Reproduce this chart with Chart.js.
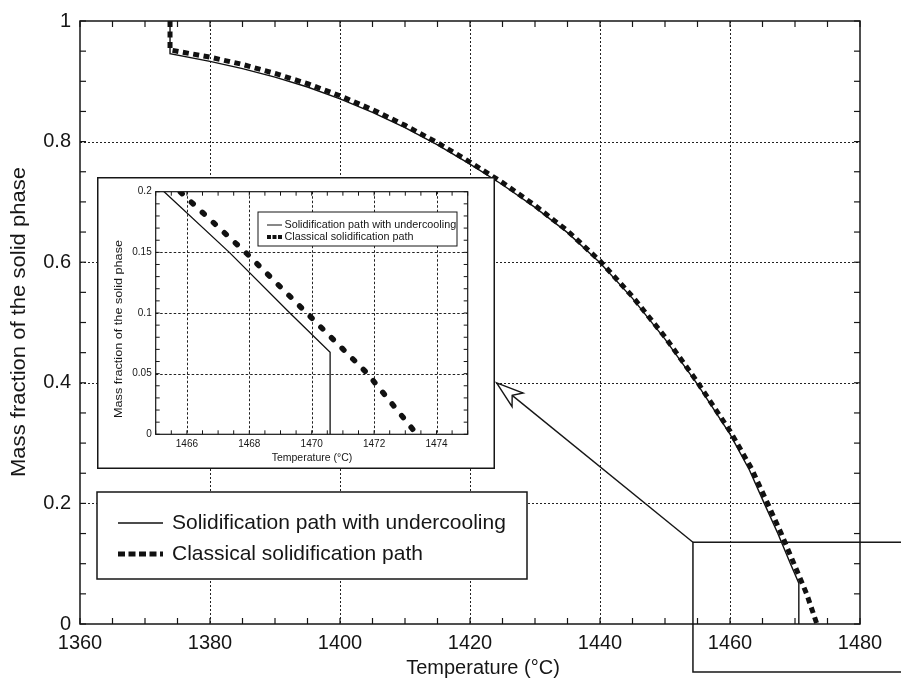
<!DOCTYPE html>
<html><head><meta charset="utf-8">
<script src="https://cdn.jsdelivr.net/npm/chart.js@4.4.1/dist/chart.umd.min.js"></script>
<style>
html,body{margin:0;padding:0;background:#fff;}
#wrap{position:relative;width:901px;height:682px;overflow:hidden;background:#fff;}
#main{position:absolute;left:0;top:0;}
#inset{position:absolute;left:97px;top:177px;}
</style></head><body>
<div id="wrap"><canvas id="main" width="901" height="682"></canvas><canvas id="inset" width="398" height="292"></canvas></div>
<script>
// ---- data ----
const seriesLabels = ['Solidification path with undercooling', 'Classical solidification path'];
const undercoolT = [1373.85, 1373.85, 1380, 1385, 1390, 1395, 1400, 1405, 1410, 1415, 1420, 1425, 1430, 1435, 1440, 1445, 1450, 1455, 1460, 1463, 1465.27, 1467.36, 1469.3, 1470.59, 1470.59];
const undercoolF = [1.0, 0.946, 0.933, 0.921, 0.907, 0.8905, 0.871, 0.8485, 0.823, 0.7945, 0.7625, 0.7285, 0.691, 0.649, 0.599, 0.540, 0.4725, 0.3975, 0.315, 0.255, 0.200, 0.150, 0.100, 0.0676, 0.0];
const classicalT = [1373.85, 1373.85, 1380, 1385, 1390, 1395, 1400, 1405, 1410, 1415, 1420, 1425, 1430, 1435, 1440, 1445, 1450, 1455, 1460, 1463.3, 1465.78, 1467.88, 1469.84, 1471.79, 1473.37];
const classicalF = [1.0, 0.952, 0.940, 0.928, 0.913, 0.896, 0.876, 0.853, 0.827, 0.798, 0.766, 0.732, 0.694, 0.652, 0.602, 0.543, 0.476, 0.401, 0.320, 0.258, 0.200, 0.150, 0.100, 0.050, 0.0];

const mainXTicks = [1360, 1380, 1400, 1420, 1440, 1460, 1480];
const mainYTicks = [0, 0.2, 0.4, 0.6, 0.8, 1];
const insetXTicks = [1466, 1468, 1470, 1472, 1474];
const insetYTicks = [0, 0.05, 0.1, 0.15, 0.2];
const xTitle = 'Temperature (°C)';
const yTitle = 'Mass fraction of the solid phase';

// zoom-window marker and arrow (data units of the main chart)
const zoomBox = {tMin: 1454.3, tMax: 1495, fMin: -0.0796, fMax: 0.1356};
const arrowTip = {t: 1424.1, f: 0.40};

// ---- drawing helpers ----
const FONT = "'Liberation Sans', Arial, Helvetica, sans-serif";
const INK = '#161616';
function pts(T, F){ return T.map((t,i)=>({x:t, y:F[i]})); }
function line(ctx,x1,y1,x2,y2){ ctx.beginPath(); ctx.moveTo(x1,y1); ctx.lineTo(x2,y2); ctx.stroke(); }

function drawGrid(chart, xs, ys, dash, w){
  const {ctx, chartArea:a, scales:{x,y}} = chart;
  ctx.save(); ctx.strokeStyle = '#222'; ctx.lineWidth = w; ctx.setLineDash(dash);
  xs.forEach(v=>{ if (v<=x.min || v>=x.max) return; const p = Math.round(x.getPixelForValue(v))+0.5; line(ctx,p,a.top,p,a.bottom); });
  ys.forEach(v=>{ if (v<=y.min || v>=y.max) return; const p = Math.round(y.getPixelForValue(v))+0.5; line(ctx,a.left,p,a.right,p); });
  ctx.restore();
}
function drawFrameTicks(chart, xStep, yStep, tl, tw, fw){
  const {ctx, chartArea:a, scales:{x,y}} = chart;
  ctx.save(); ctx.strokeStyle = INK; ctx.setLineDash([]); ctx.lineWidth = tw;
  const nx = Math.round((x.max-x.min)/xStep);
  for (let i=0;i<=nx;i++){ const p = x.getPixelForValue(x.min+i*xStep); line(ctx,p,a.bottom,p,a.bottom-tl); line(ctx,p,a.top,p,a.top+tl); }
  const ny = Math.round((y.max-y.min)/yStep);
  for (let i=0;i<=ny;i++){ const p = y.getPixelForValue(y.min+i*yStep); line(ctx,a.left,p,a.left+tl,p); line(ctx,a.right,p,a.right-tl,p); }
  ctx.lineWidth = fw; ctx.strokeRect(a.left, a.top, a.right-a.left, a.bottom-a.top);
  ctx.restore();
}
function drawLegend(chart, box, rows, sx, tx, fs, dashes, widths, bw){
  const ctx = chart.ctx;
  ctx.save();
  ctx.fillStyle = '#fff'; ctx.fillRect(box[0], box[1], box[2]-box[0], box[3]-box[1]);
  ctx.strokeStyle = INK; ctx.lineWidth = bw; ctx.setLineDash([]);
  ctx.strokeRect(box[0], box[1], box[2]-box[0], box[3]-box[1]);
  chart.data.datasets.forEach((ds,i)=>{
    const yy = rows[i];
    ctx.strokeStyle = ds.borderColor; ctx.lineWidth = widths[i]; ctx.setLineDash(dashes[i]); ctx.lineCap = 'butt';
    line(ctx, sx[0], yy, sx[1], yy);
    ctx.setLineDash([]);
    ctx.fillStyle = INK; ctx.font = fs + 'px ' + FONT; ctx.textAlign = 'left'; ctx.textBaseline = 'middle';
    ctx.fillText(ds.label, tx, yy);
  });
  ctx.restore();
}
function drawTitles(chart, xt, xc, yt, yc, fs, yfs, yLen){
  const ctx = chart.ctx;
  ctx.save(); ctx.fillStyle = INK; ctx.textAlign = 'center'; ctx.textBaseline = 'middle';
  ctx.font = fs + 'px ' + FONT; ctx.fillText(xt, xc[0], xc[1]);
  ctx.font = yfs + 'px ' + FONT;
  const w = ctx.measureText(yt).width;
  ctx.translate(yc[0], yc[1]); ctx.rotate(-Math.PI/2); ctx.scale(yLen/w, 1);
  ctx.fillText(yt, 0, 0);
  ctx.restore();
}
function axisCfg(min, max, ticksArr, fs, pad, fit){
  return {
    type:'linear', min:min, max:max,
    afterBuildTicks: s=>{ s.ticks = ticksArr.map(v=>({value:v})); },
    afterFit: fit,
    grid:{display:false, drawTicks:false}, border:{display:false},
    ticks:{font:{family:FONT, size:fs}, color:INK, padding:pad, maxRotation:0, autoSkip:false, callback:v=>String(v)}
  };
}

// ---- main chart ----
const mainPlugin = {
  id:'mainDecor',
  beforeDatasetsDraw(chart){ drawGrid(chart, mainXTicks, mainYTicks, [2,2], 1); },
  afterDatasetsDraw(chart){
    const {ctx, scales:{x,y}} = chart;
    drawFrameTicks(chart, 5, 0.05, 6, 1.2, 1.5);
    drawLegend(chart, [97,492,527,579], [523,554], [118,163], 172, 21, [[],[7,3.5]], [1.3,5], 1.5);
    // zoom window marker
    ctx.save(); ctx.strokeStyle = INK; ctx.lineWidth = 1.5; ctx.setLineDash([]);
    const bx0 = x.getPixelForValue(zoomBox.tMin), bx1 = x.getPixelForValue(zoomBox.tMax);
    const by0 = y.getPixelForValue(zoomBox.fMax), by1 = y.getPixelForValue(zoomBox.fMin);
    ctx.strokeRect(bx0, by0, bx1-bx0, by1-by0);
    // hollow arrow from marker corner to inset
    const tx = x.getPixelForValue(arrowTip.t), ty = y.getPixelForValue(arrowTip.f);
    const dx = bx0-tx, dy = by0-ty, L = Math.hypot(dx,dy), ux = dx/L, uy = dy/L, nx = -uy, ny = ux;
    const P = (u,n)=>[tx+ux*u+nx*n, ty+uy*u+ny*n];
    const b1 = P(27,-8.8), b2 = P(27,8.8), nt = P(20,0);
    ctx.lineWidth = 1.4; ctx.lineJoin = 'miter';
    ctx.beginPath(); ctx.moveTo(tx,ty); ctx.lineTo(b1[0],b1[1]); ctx.lineTo(nt[0],nt[1]); ctx.lineTo(b2[0],b2[1]); ctx.closePath(); ctx.stroke();
    line(ctx, nt[0], nt[1], bx0, by0);
    ctx.restore();
    drawTitles(chart, xTitle, [483,668], yTitle, [19,322], 20, 20, 310);
  }
};

new Chart(document.getElementById('main'), {
  type:'scatter',
  data:{datasets:[
    {label:seriesLabels[0], data:pts(undercoolT, undercoolF), showLine:true, borderColor:'#111', borderWidth:1.4, pointRadius:0, tension:0, fill:false},
    {label:seriesLabels[1], data:pts(classicalT, classicalF), showLine:true, borderColor:'#111', borderWidth:5, borderDash:[6,4.5], pointRadius:0, tension:0, fill:false}
  ]},
  options:{
    responsive:false, animation:false, devicePixelRatio:1,
    layout:{padding:{left:0, top:12, right:41, bottom:0}},
    plugins:{legend:{display:false}, tooltip:{enabled:false}},
    scales:{
      x: axisCfg(1360, 1480, mainXTicks, 20, 7, s=>{ s.height = 58; }),
      y: axisCfg(0, 1, mainYTicks, 20, 9, s=>{ s.width = 80; })
    }
  },
  plugins:[mainPlugin]
});

// ---- inset chart ----
const insetPlugin = {
  id:'insetDecor',
  beforeDraw(chart){ const c = chart.ctx; c.save(); c.fillStyle = '#fff'; c.fillRect(0,0,chart.width,chart.height); c.restore(); },
  beforeDatasetsDraw(chart){ drawGrid(chart, insetXTicks, insetYTicks, [2.5,2], 1); },
  afterDatasetsDraw(chart){
    const ctx = chart.ctx;
    drawFrameTicks(chart, 0.5, 0.01, 4, 1, 1.2);
    drawLegend(chart, [161,35,360,69], [48,60], [170,185], 187.5, 10.8, [[],[4,1.5]], [1,4], 1);
    drawTitles(chart, xTitle, [215,281], yTitle, [22,152], 10.5, 10.5, 178);
    ctx.save(); ctx.strokeStyle = INK; ctx.lineWidth = 1.5; ctx.strokeRect(0.75, 0.75, chart.width-1.5, chart.height-1.5); ctx.restore();
  }
};

new Chart(document.getElementById('inset'), {
  type:'scatter',
  data:{datasets:[
    {label:seriesLabels[0], data:pts(undercoolT, undercoolF), showLine:true, borderColor:'#111', borderWidth:1.3, pointRadius:0, tension:0, fill:false},
    {label:seriesLabels[1], data:pts(classicalT, classicalF), showLine:true, borderColor:'#111', borderWidth:5.5, borderDash:[2.5,12.5], borderCapStyle:'round', pointRadius:0, tension:0, fill:false}
  ]},
  options:{
    responsive:false, animation:false, devicePixelRatio:1,
    layout:{padding:{left:0, top:14.7, right:27.3, bottom:0}},
    plugins:{legend:{display:false}, tooltip:{enabled:false}},
    scales:{
      x: axisCfg(1465, 1475, insetXTicks, 10, 4, s=>{ s.height = 34.7; }),
      y: axisCfg(0, 0.2, insetYTicks, 10, 4, s=>{ s.width = 58.7; })
    }
  },
  plugins:[insetPlugin]
});
</script>
</body></html>
